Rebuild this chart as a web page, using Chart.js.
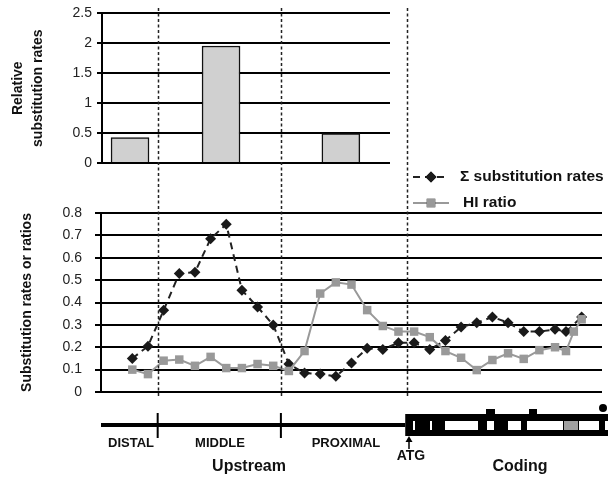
<!DOCTYPE html>
<html>
<head>
<meta charset="utf-8">
<script src="https://cdn.jsdelivr.net/npm/chart.js@4.4.1/dist/chart.umd.min.js"></script>
<style>
  body { margin: 0; background: #fff; }
  #wrap { position: relative; width: 608px; height: 477px; }
  #wrap canvas { position: absolute; left: 0; top: 0; }
</style>
</head>
<body>
<div id="wrap">
  <canvas id="barChart" width="608" height="180"></canvas>
  <canvas id="lineChart" width="608" height="477"></canvas>
</div>
<script>
// Region bar values (top panel)
const regions = ['DISTAL', 'MIDDLE', 'PROXIMAL'];
const regionRates = [0.425, 1.955, 0.49];
const regionPos = [1.78, 7.56, 15.17];     // bar centres on the shared x units
const regionEdges = [3.62, 11.49, 19.56];  // dotted separators (last one = ATG)

// Sliding-window series (bottom panel)
const positions = [2, 3, 4, 5, 6, 7, 8, 9, 10, 11, 12, 13, 14, 15, 16, 17, 18, 19,
  20, 21, 22, 23, 24, 25, 26, 27, 28, 29, 29.7, 30.2, 30.7];
const sumRates = [0.15, 0.205, 0.365, 0.53, 0.535, 0.685, 0.75, 0.455, 0.38, 0.30,
  0.125, 0.085, 0.08, 0.07, 0.13, 0.195, 0.19, 0.22, 0.22, 0.19, 0.23, 0.29, 0.31,
  0.335, 0.31, 0.27, 0.27, 0.28, 0.27, null, 0.335];
const hiRatio = [0.10, 0.08, 0.14, 0.145, 0.117, 0.157, 0.107, 0.107, 0.125, 0.117,
  0.094, 0.183, 0.44, 0.49, 0.48, 0.366, 0.295, 0.27, 0.27, 0.245, 0.183, 0.153, 0.098,
  0.143, 0.173, 0.148, 0.187, 0.20, 0.183, 0.27, 0.325];

const topTicks = [0, 0.5, 1, 1.5, 2, 2.5];
const bottomTicks = [0, 0.1, 0.2, 0.3, 0.4, 0.5, 0.6, 0.7, 0.8];

const FONT = "'Liberation Sans', Arial, sans-serif";
Chart.defaults.font.family = FONT;
Chart.defaults.color = '#222';

const plainNum = v => String(+v.toFixed(2));

// Top panel: relative substitution rates per region
new Chart(document.getElementById('barChart'), {
    type: 'bar',
    data: {
        datasets: [{
            label: 'Relative substitution rates',
            data: regionRates.map((v, i) => ({ x: regionPos[i], y: v, r: regions[i] })),
            backgroundColor: '#d0d0d0',
            borderColor: '#111',
            borderWidth: 1.5,
            borderSkipped: 'bottom',
            barThickness: 38
        }]
    },
    options: {
        responsive: false,
        animation: false,
        layout: { padding: { left: 0, right: 218, top: 10, bottom: 17 } },
        plugins: { legend: { display: false }, tooltip: { enabled: false } },
        scales: {
            x: { type: 'linear', min: 0, max: 18.29, display: false, offset: false },
            y: {
                min: 0, max: 2.5,
                afterBuildTicks: s => { s.ticks = topTicks.map(v => ({ value: v })); },
                afterFit: s => { s.width = 102; },
                ticks: { font: { size: 14 }, padding: 5, color: '#222', callback: plainNum },
                grid: { color: '#000', lineWidth: 2, tickLength: 5 },
                border: { color: '#000', width: 2 },
                title: {
                    display: true,
                    text: ['Relative', 'substitution rates'],
                    font: { size: 14, weight: 'bold', lineHeight: '20px' },
                    color: '#111',
                    padding: { top: 8, bottom: 0 }
                }
            }
        }
    }
});

// Separators, legend and gene sketch for the bottom panel
const overlay = {
    id: 'overlay',
    afterDatasetsDraw(chart) {
        const ctx = chart.ctx;
        const xs = chart.scales.x;
        ctx.save();

        // dotted region separators across both panels
        ctx.strokeStyle = '#222';
        ctx.lineWidth = 1.5;
        ctx.setLineDash([3, 2.5]);
        regionEdges.forEach(v => {
            const px = Math.round(xs.getPixelForValue(v)) + 0.5;
            ctx.beginPath();
            ctx.moveTo(px, 8);
            ctx.lineTo(px, 398);
            ctx.stroke();
        });
        ctx.setLineDash([]);

        // legend
        const items = [
            { ds: chart.data.datasets[1], y: 177, x: 460, text: 'Σ substitution rates' },
            { ds: chart.data.datasets[0], y: 203, x: 463, text: 'HI ratio' }
        ];
        items.forEach(it => {
            ctx.strokeStyle = it.ds.borderColor;
            ctx.lineWidth = 2;
            ctx.setLineDash(it.ds.borderDash || []);
            ctx.beginPath();
            ctx.moveTo(413, it.y);
            ctx.lineTo(449, it.y);
            ctx.stroke();
            ctx.setLineDash([]);
            Chart.helpers.drawPoint(ctx, {
                pointStyle: it.ds.pointStyle, radius: it.ds.pointRadius, borderWidth: 0
            }, 431, it.y);
            ctx.fillStyle = it.ds.pointBackgroundColor;
            ctx.fill();
            ctx.fillStyle = '#111';
            ctx.font = 'bold 15.5px ' + FONT;
            ctx.textBaseline = 'middle';
            ctx.textAlign = 'left';
            ctx.fillText(it.text, it.x, it.y);
        });

        // gene sketch
        const lineY = 425;
        const start = xs.getPixelForValue(0);
        const atg = xs.getPixelForValue(regionEdges[2]) - 2;
        ctx.fillStyle = '#000';
        ctx.fillRect(start, lineY - 2, atg - start, 4);
        ctx.fillRect(xs.getPixelForValue(regionEdges[0]) - 1, 413, 2, 25);
        ctx.fillRect(xs.getPixelForValue(regionEdges[1]) - 1, 413, 2, 25);
        ctx.fillRect(atg, 414, 608 - atg, 22);
        ctx.fillRect(486, 409, 9, 6);
        ctx.fillRect(529, 409, 8, 6);
        ctx.beginPath();
        ctx.arc(603, 408, 4, 0, Math.PI * 2);
        ctx.fill();
        ctx.fillStyle = '#fff';
        [[413, 2], [430, 2], [445, 33], [487, 7], [508, 13], [527, 36], [579, 20], [605, 3]]
            .forEach(([x, w]) => ctx.fillRect(x, 421, w, 9));
        ctx.fillStyle = '#a0a0a0';
        ctx.fillRect(564, 421, 14, 9);

        // ATG arrow
        ctx.strokeStyle = '#000';
        ctx.fillStyle = '#000';
        ctx.lineWidth = 1.5;
        ctx.beginPath();
        ctx.moveTo(409, 449);
        ctx.lineTo(409, 440);
        ctx.stroke();
        ctx.beginPath();
        ctx.moveTo(405.5, 442);
        ctx.lineTo(409, 436);
        ctx.lineTo(412.5, 442);
        ctx.closePath();
        ctx.fill();

        ctx.fillStyle = '#111';
        ctx.textAlign = 'center';
        ctx.textBaseline = 'middle';
        ctx.font = 'bold 13px ' + FONT;
        ctx.fillText('DISTAL', 131, 443);
        ctx.fillText('MIDDLE', 220, 443);
        ctx.fillText('PROXIMAL', 346, 443);
        ctx.font = 'bold 14px ' + FONT;
        ctx.fillText('ATG', 411, 456);
        ctx.font = 'bold 16px ' + FONT;
        ctx.fillText('Upstream', 249, 467);
        ctx.fillText('Coding', 520, 467);
        ctx.restore();
    }
};

// Bottom panel: sliding-window substitution rates and HI ratio
new Chart(document.getElementById('lineChart'), {
    type: 'line',
    data: {
        datasets: [{
            label: 'HI ratio',
            data: hiRatio.map((v, i) => ({ x: positions[i], y: v })),
            borderColor: '#999',
            borderWidth: 2,
            pointStyle: 'rect',
            pointRadius: 6,
            pointBackgroundColor: '#999',
            pointBorderWidth: 0,
            tension: 0
        }, {
            label: 'Σ substitution rates',
            data: sumRates.map((v, i) => ({ x: positions[i], y: v })),
            borderColor: '#222',
            borderWidth: 2,
            borderDash: [7, 5],
            pointStyle: 'rectRot',
            pointRadius: 5.5,
            pointBackgroundColor: '#1a1a1a',
            pointBorderWidth: 0,
            spanGaps: true,
            tension: 0
        }]
    },
    options: {
        responsive: false,
        animation: false,
        layout: { padding: { left: 0, right: 3, top: 213, bottom: 85 } },
        plugins: { legend: { display: false }, tooltip: { enabled: false } },
        scales: {
            x: { type: 'linear', min: 0, max: 32, display: false },
            y: {
                min: 0, max: 0.8,
                afterBuildTicks: s => { s.ticks = bottomTicks.map(v => ({ value: v })); },
                afterFit: s => { s.width = 101; },
                ticks: { font: { size: 14 }, padding: 13, color: '#222', autoSkip: false, callback: plainNum },
                grid: { color: '#000', lineWidth: 2, tickLength: 6 },
                border: { color: '#000', width: 2 },
                title: {
                    display: true,
                    text: 'Substitution rates or ratios',
                    font: { size: 14, weight: 'bold', lineHeight: 1.2 },
                    color: '#111',
                    padding: { top: 19, bottom: 0 }
                }
            }
        }
    },
    plugins: [overlay]
});
</script>
</body>
</html>
